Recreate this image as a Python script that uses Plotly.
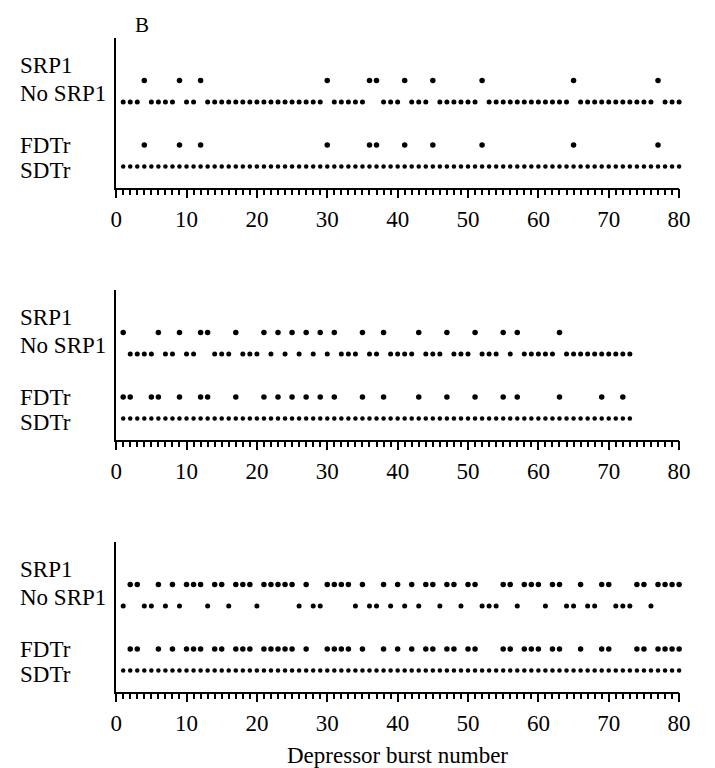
import plotly.graph_objects as go

# ---------------- data (burst numbers) ----------------
row_names = ["SRP1", "No SRP1", "FDTr", "SDTr"]
row_levels = [5, 4, 2, 1]
row_sizes = [5.5, 5, 5.5, 4.5]

# Panel 1
p1_srp1 = [4, 9, 12, 30, 36, 37, 41, 45, 52, 65, 77]
p1_nosrp1 = [1, 2, 3, 5, 6, 7, 8, 10, 11, 13, 14, 15, 16, 17, 18, 19, 20, 21, 22,
             23, 24, 25, 26, 27, 28, 29, 31, 32, 33, 34, 35, 38, 39, 40, 42, 43,
             44, 46, 47, 48, 49, 50, 51, 53, 54, 55, 56, 57, 58, 59, 60, 61, 62,
             63, 64, 66, 67, 68, 69, 70, 71, 72, 73, 74, 75, 76, 78, 79, 80]
p1_fdtr = [4, 9, 12, 30, 36, 37, 41, 45, 52, 65, 77]
p1_sdtr = [1, 2, 3, 4, 5, 6, 7, 8, 9, 10, 11, 12, 13, 14, 15, 16, 17, 18, 19, 20,
           21, 22, 23, 24, 25, 26, 27, 28, 29, 30, 31, 32, 33, 34, 35, 36, 37, 38,
           39, 40, 41, 42, 43, 44, 45, 46, 47, 48, 49, 50, 51, 52, 53, 54, 55, 56,
           57, 58, 59, 60, 61, 62, 63, 64, 65, 66, 67, 68, 69, 70, 71, 72, 73, 74,
           75, 76, 77, 78, 79, 80]

# Panel 2
p2_srp1 = [1, 6, 9, 12, 13, 17, 21, 23, 25, 27, 29, 31, 35, 38, 43, 47, 51, 55, 57, 63]
p2_nosrp1 = [2, 3, 4, 5, 7, 8, 10, 11, 14, 15, 16, 18, 19, 20, 22, 24, 26, 28, 30,
             32, 33, 34, 36, 37, 39, 40, 41, 42, 44, 45, 46, 48, 49, 50, 52, 53,
             54, 56, 58, 59, 60, 61, 62, 64, 65, 66, 67, 68, 69, 70, 71, 72, 73]
p2_fdtr = [1, 2, 5, 6, 9, 12, 13, 17, 21, 23, 25, 27, 29, 31, 35, 38, 43, 47, 51,
           55, 57, 63, 69, 72]
p2_sdtr = [1, 2, 3, 4, 5, 6, 7, 8, 9, 10, 11, 12, 13, 14, 15, 16, 17, 18, 19, 20,
           21, 22, 23, 24, 25, 26, 27, 28, 29, 30, 31, 32, 33, 34, 35, 36, 37, 38,
           39, 40, 41, 42, 43, 44, 45, 46, 47, 48, 49, 50, 51, 52, 53, 54, 55, 56,
           57, 58, 59, 60, 61, 62, 63, 64, 65, 66, 67, 68, 69, 70, 71, 72, 73]

# Panel 3
p3_srp1 = [2, 3, 6, 8, 10, 11, 12, 14, 15, 17, 18, 19, 21, 22, 23, 24, 25, 27, 30,
           31, 32, 33, 35, 38, 40, 42, 44, 45, 47, 48, 50, 51, 55, 56, 58, 59, 60,
           62, 63, 66, 69, 70, 74, 75, 77, 78, 79, 80]
p3_nosrp1 = [1, 4, 5, 7, 9, 13, 16, 20, 26, 28, 29, 34, 36, 37, 39, 41, 43, 46, 49,
             52, 53, 54, 57, 61, 64, 65, 67, 68, 71, 72, 73, 76]
p3_fdtr = [2, 3, 6, 8, 10, 11, 12, 14, 15, 17, 18, 19, 21, 22, 23, 24, 25, 27, 30,
           31, 32, 33, 35, 38, 40, 42, 44, 45, 47, 48, 50, 51, 55, 56, 58, 59, 60,
           62, 63, 66, 69, 70, 74, 75, 77, 78, 79, 80]
p3_sdtr = p1_sdtr

panels = [
    [p1_srp1, p1_nosrp1, p1_fdtr, p1_sdtr],
    [p2_srp1, p2_nosrp1, p2_fdtr, p2_sdtr],
    [p3_srp1, p3_nosrp1, p3_fdtr, p3_sdtr],
]

major_ticks = [0, 10, 20, 30, 40, 50, 60, 70, 80]
x_title = "Depressor burst number"
panel_letter = "B"

# every-burst tick positions; only the multiples of ten carry a label
all_ticks = list(range(0, 81))
all_text = [str(t) if t in major_ticks else "" for t in all_ticks]

# ---------------- layout geometry ----------------
W, H = 715, 768
FONT = "Liberation Serif"
x_left, x_right = 113, 690.5
axis_px = [188, 440, 692]      # x-axis line (pixels from top)
panel_h = 150.5

fig = go.Figure()
layout_axes = {}
annotations = []

for i, rows in enumerate(panels):
    sfx = "" if i == 0 else str(i + 1)
    msfx = str(i + 4)
    xa, ya = "x" + sfx, "y" + sfx
    for vals, lvl, sz in zip(rows, row_levels, row_sizes):
        fig.add_trace(go.Scatter(
            x=vals, y=[lvl] * len(vals), mode="markers",
            marker=dict(color="black", size=sz, line=dict(width=0)),
            xaxis=xa, yaxis=ya, showlegend=False, cliponaxis=False,
            hoverinfo="x"))
    bottom = 1 - axis_px[i] / H
    top = 1 - (axis_px[i] - panel_h) / H
    # main axis: short tick at every burst, labels at the tens
    layout_axes["xaxis" + sfx] = dict(
        domain=[x_left / W, x_right / W], anchor=ya, range=[0, 80],
        showline=True, linecolor="black", linewidth=2, showgrid=False,
        zeroline=False, ticks="outside", tickmode="array",
        tickvals=all_ticks, ticktext=all_text,
        ticklen=5, tickwidth=1.5, tickcolor="black", ticklabelstandoff=4,
        tickfont=dict(family=FONT, size=23, color="black"))
    # overlaid axis carrying the long ticks at the tens
    layout_axes["xaxis" + msfx] = dict(
        overlaying=xa, anchor=ya, side="bottom", range=[0, 80],
        showline=False, showgrid=False, zeroline=False, ticks="outside",
        tickmode="array", tickvals=major_ticks, ticklen=9, tickwidth=2,
        tickcolor="black", showticklabels=False)
    layout_axes["yaxis" + sfx] = dict(
        domain=[bottom, top], anchor=xa, range=[0, 7],
        showline=True, linecolor="black", linewidth=2, showgrid=False,
        zeroline=False, showticklabels=False, ticks="")
    # row labels
    for name, frac in zip(row_names, [0.817, 0.628, 0.282, 0.116]):
        annotations.append(dict(
            text=name, xref="paper", yref=ya + " domain", x=12 / W, y=frac,
            xanchor="left", yanchor="middle", showarrow=False,
            font=dict(family=FONT, size=23, color="black")))

annotations.append(dict(
    text=panel_letter, xref="paper", yref="paper", x=140 / W, y=1 - 25 / H,
    xanchor="center", yanchor="middle", showarrow=False,
    font=dict(family=FONT, size=21, color="black")))
annotations.append(dict(
    text=x_title, xref="paper", yref="paper", x=(x_left + x_right) / 2 / W,
    y=1 - 755 / H, xanchor="center", yanchor="middle", showarrow=False,
    font=dict(family=FONT, size=23, color="black")))

fig.update_layout(
    width=W, height=H, margin=dict(l=0, r=0, t=0, b=0),
    paper_bgcolor="white", plot_bgcolor="white",
    font=dict(family=FONT, color="black"),
    annotations=annotations, **layout_axes)

# invisible helper traces so the overlaid tick axes are drawn
for i in range(3):
    ya = "y" if i == 0 else "y" + str(i + 1)
    fig.add_trace(go.Scatter(x=[None], y=[None], xaxis="x" + str(i + 4),
                             yaxis=ya, showlegend=False, hoverinfo="skip"))

fig.write_html("out.html")
